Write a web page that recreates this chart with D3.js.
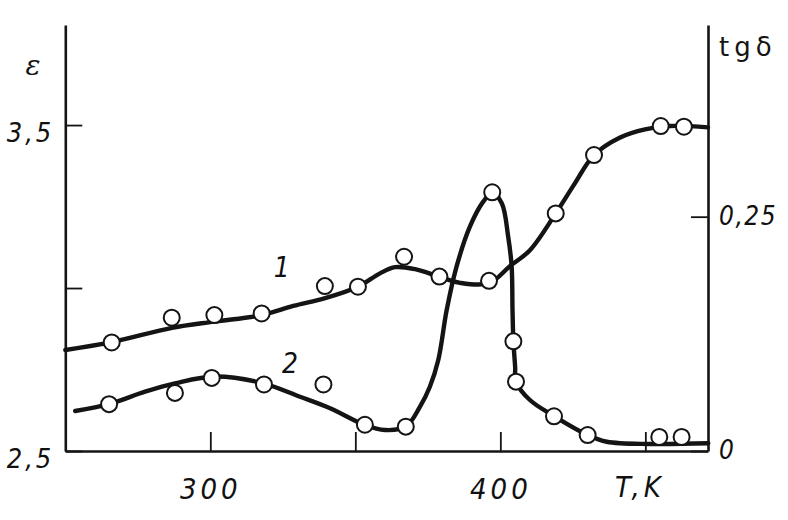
<!DOCTYPE html>
<html>
<head>
<meta charset="utf-8">
<script src="https://cdn.jsdelivr.net/npm/d3@7"></script>
<style>
  html, body { margin: 0; padding: 0; background: #fff; }
  svg { display: block; }
  .lbl { font-family: "Liberation Sans Narrow", "DejaVu Sans Condensed", "Liberation Sans", sans-serif; font-style: italic; fill: #111; }
</style>
</head>
<body>
<svg id="chart" width="788" height="520"></svg>
<script>
// ---- data ----
// curve 1: permittivity ε (left axis) — measured points
const T_pts1 = [266.0, 286.7, 301.4, 317.7, 339.5, 350.9, 366.8, 379.0, 396.1, 419.1, 432.3, 455.3, 463.3];
const eps_pts = [2.833, 2.909, 2.917, 2.922, 3.006, 3.004, 3.096, 3.035, 3.022, 3.229, 3.408, 3.497, 3.495];
// curve 1: drawn smooth curve
const T_fit1 = [250, 266, 286.8, 301.3, 317.8, 328.6, 339.6, 350.9, 358.5, 363.7, 370.6, 378.9, 386.1, 396.1, 403.3, 410.2, 419.1, 425.7, 432.3, 441.3, 449.9, 458.5, 471.6];
const eps_fit = [2.810, 2.834, 2.878, 2.897, 2.917, 2.945, 2.969, 3.004, 3.045, 3.064, 3.058, 3.035, 3.016, 3.015, 3.067, 3.116, 3.229, 3.321, 3.408, 3.462, 3.487, 3.497, 3.493];

// curve 2: loss tangent tg δ (right axis) — measured points
const T_pts2 = [265.1, 287.8, 300.5, 318.5, 339.0, 353.3, 367.4, 397.2, 404.5, 405.4, 418.5, 430.1, 454.8, 462.5];
const tg_pts = [0.050, 0.062, 0.078, 0.071, 0.071, 0.028, 0.026, 0.276, 0.117, 0.074, 0.037, 0.017, 0.015, 0.015];
// curve 2: drawn smooth curve
const T_fit2 = [253.4, 265.1, 277.5, 287.8, 301.6, 318.5, 330.9, 341.3, 353.3, 360.2, 367.4, 372.3, 375.7, 378.6, 381.5, 384.9, 389.5, 394.1, 397.2, 400.5, 402.7, 403.9, 404.2, 404.5, 405.1, 405.4, 410.2, 418.5, 430.1, 436.7, 451.6, 471.7];
const tg_fit = [0.0427, 0.0501, 0.0633, 0.0722, 0.0795, 0.0720, 0.0579, 0.0456, 0.0277, 0.0224, 0.0259, 0.0473, 0.0686, 0.0971, 0.1504, 0.1967, 0.2393, 0.2660, 0.2756, 0.2643, 0.2287, 0.1967, 0.1504, 0.1172, 0.0900, 0.0740, 0.0544, 0.0373, 0.0171, 0.0099, 0.0075, 0.0082];

// axis ticks and labels
const xTicks = [300, 350, 400, 450];
const xTickLabels = {300: "300", 400: "400"};
const epsTicks = [2.5, 3.0, 3.5];
const epsTickLabels = {2.5: "2,5", 3.5: "3,5"};
const tgTicks = [0, 0.25];
const tgTickLabels = {0: "0", 0.25: "0,25"};
const curveLabels = [{text: "1", T: 324.6, eps: 3.065}, {text: "2", T: 327.5, eps: 2.770}];

// ---- scales ----
const x = d3.scaleLinear().domain([250, 471.6]).range([65.3, 708]);
const yE = d3.scaleLinear().domain([2.5, 3.807]).range([451, 25]);
const yT = d3.scaleLinear().domain([0, 0.4545]).range([451, 25]);

const svg = d3.select("#chart");
const ink = "#141414";

// ---- axes ----
const gx = svg.append("g").attr("transform", "translate(0,451)")
  .call(d3.axisBottom(x).tickValues(xTicks).tickSizeInner(-19).tickSizeOuter(0)
    .tickPadding(27).tickFormat(d => xTickLabels[d] || ""));
const gl = svg.append("g").attr("transform", "translate(65.3,0)")
  .call(d3.axisLeft(yE).tickValues(epsTicks).tickSizeInner(-17).tickSizeOuter(0)
    .tickPadding(11).tickFormat(d => epsTickLabels[d] || ""));
const gr = svg.append("g").attr("transform", "translate(708,0)")
  .call(d3.axisRight(yT).tickValues(tgTicks).tickSizeInner(-17).tickSizeOuter(0)
    .tickPadding(11).tickFormat(d => tgTickLabels[d] || ""));

[gx, gl, gr].forEach(g => {
  g.select(".domain").attr("stroke", ink).attr("stroke-width", 2.6);
  g.selectAll(".tick line").attr("stroke", ink).attr("stroke-width", 1.8);
  g.selectAll(".tick text").attr("class", "lbl").attr("font-size", 27)
    .attr("letter-spacing", 3).attr("fill", ink);
});
gl.selectAll(".tick text").attr("dy", "0.62em");
gr.selectAll(".tick text").attr("dy", "0.3em").attr("font-size", 26).attr("letter-spacing", 1.5);
gx.selectAll(".tick text").attr("dy", "0.71em").attr("font-size", 29).attr("letter-spacing", 4);

// axis titles
svg.append("text").attr("x", 33).attr("y", 75).attr("text-anchor", "middle")
  .attr("font-family", "'DejaVu Serif', serif").attr("font-style", "italic")
  .attr("font-size", 28).attr("fill", ink).text("ε");
svg.append("text").attr("x", 719).attr("y", 56)
  .attr("font-family", "'DejaVu Sans', sans-serif")
  .attr("font-size", 26).attr("letter-spacing", 5).attr("fill", ink).text("tgδ");
svg.append("text").attr("class", "lbl").attr("x", 615).attr("y", 497)
  .attr("font-size", 29).attr("letter-spacing", 4).text("T,K");

// ---- curves ----
const fit1 = T_fit1.map((t, i) => [x(t), yE(eps_fit[i])]);
const fit2 = T_fit2.map((t, i) => [x(t), yT(tg_fit[i])]);
const line = d3.line().curve(d3.curveCatmullRom.alpha(0.5));

svg.append("path").attr("d", line(fit1)).attr("fill", "none")
  .attr("stroke", ink).attr("stroke-width", 4.4).attr("stroke-linecap", "round");
svg.append("path").attr("d", line(fit2)).attr("fill", "none")
  .attr("stroke", ink).attr("stroke-width", 4.4).attr("stroke-linecap", "round");

// ---- points ----
svg.append("g").selectAll("circle").data(T_pts1.map((t, i) => [t, eps_pts[i]]))
  .join("circle").attr("cx", d => x(d[0])).attr("cy", d => yE(d[1])).attr("r", 8)
  .attr("fill", "#fff").attr("stroke", ink).attr("stroke-width", 2);
svg.append("g").selectAll("circle").data(T_pts2.map((t, i) => [t, tg_pts[i]]))
  .join("circle").attr("cx", d => x(d[0])).attr("cy", d => yT(d[1])).attr("r", 8)
  .attr("fill", "#fff").attr("stroke", ink).attr("stroke-width", 2);

// ---- curve labels ----
svg.append("g").selectAll("text").data(curveLabels).join("text")
  .attr("class", "lbl").attr("font-size", 28).attr("text-anchor", "middle")
  .attr("x", d => x(d.T)).attr("y", d => yE(d.eps) + 10).text(d => d.text);
</script>
</body>
</html>
